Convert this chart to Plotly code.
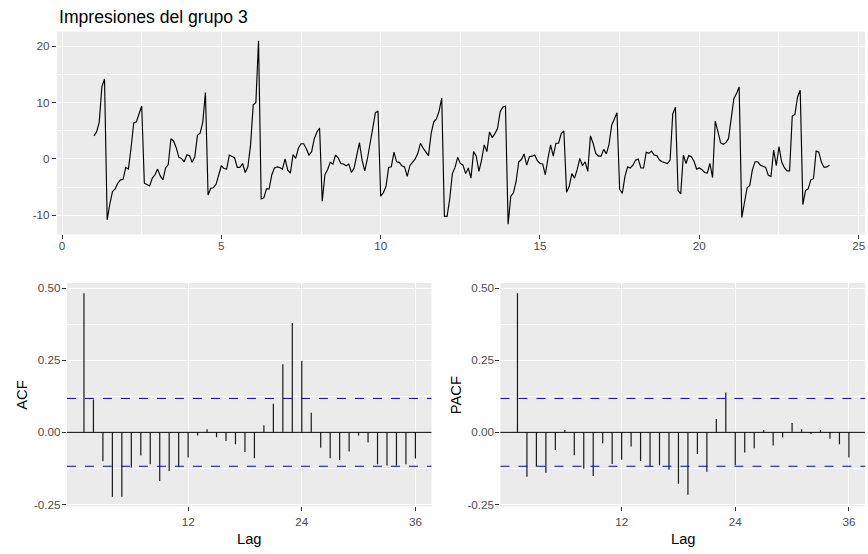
import numpy as np
import plotly.graph_objects as go

# ---------------- data ----------------
series = [
    4.1, 4.8, 6.5, 12.8, 14.2, -10.8, -8.0, -5.8, -5.3, -4.3, -3.7, -3.6, -1.5, -1.8, 2.0, 6.4,
    6.6, 8.0, 9.4, -4.3, -4.5, -4.8, -3.4, -2.8, -1.8, -3.0, -3.7, -1.6, -1.0, 3.6, 3.2, 2.0,
    0.3, 0.1, -0.5, 0.7, 0.6, -0.6, 0.4, 4.2, 4.6, 6.5, 11.8, -6.4, -5.2, -5.1,
    -4.5, -2.8, -1.2, -1.7, -1.8, 0.7, 0.4, 0.2, -1.5, -1.5, -0.8, -2.4, -1.4, 2.5, 9.6, 10.0,
    21.0, -7.1, -6.9, -5.3, -5.3, -2.8, -1.6, -1.4, -1.5, -1.8, 0.0, -2.0, -2.5, 0.8, 0.1, 1.9,
    2.7, 2.7, 1.8, 0.7, 1.3, 3.6, 4.8, 5.5, -7.5, -2.8, -1.9, -0.6, -0.9, 0.7,
    0.2, -0.8, -0.9, -1.2, -0.9, -2.4, -1.6, 0.8, 2.9, -0.2, -2.1, 0.0, 2.5, 5.4, 8.2, 8.5,
    -6.6, -6.0, -4.9, -1.5, -1.4, 1.2, -0.5, -0.6, -1.2, -1.4, -3.1, -1.2, -0.5, 0.0, 1.0, 2.8,
    1.9, 1.3, 0.6, 4.5, 6.6, 7.1, 8.5, 10.8, -10.2, -10.2,
    -7.1, -2.6, -1.5, 0.3, -0.8, -1.1, -2.6, -1.6, -3.4, 1.3, 0.5, -2.2, -0.2, 2.5, 1.3, 4.8,
    3.8, 4.5, 5.4, 8.4, 9.2, 9.4, -11.6, -6.6, -6.0, -4.0, -0.5, -0.1, 0.9, -1.1, 0.4, 0.5,
    0.7, -0.3, -0.8, -0.9, -2.8, 0.1, 2.5, 0.5, 2.8, 2.8, 4.5, 5.0,
    -5.9, -4.9, -2.6, -3.4, -1.9, 0.1, -1.2, -0.5, -2.2, 4.1, 2.8, 1.0, 0.5, 0.5, 1.7, 0.9,
    2.6, 6.0, 7.2, 8.2, -5.4, -6.1, -3.1, -1.4, -1.6, -1.1, -0.2, 0.0, -1.6, -1.6, 1.2, 1.0,
    1.4, 0.7, 0.6, -0.2, -0.5, -0.6, -0.8, -0.2, 8.0, 9.2, -5.6, -6.2,
    0.7, -0.8, 0.6, 0.4, -0.4, -1.8, -1.6, -1.9, -2.4,
    -2.5, -0.8, -3.3, 6.7, 4.9, 2.9, 2.6, 2.9, 3.6, 7.2, 10.7, 11.6, 12.8, -10.4, -7.8, -5.1,
    -4.7, -1.9, -0.5, -0.5, -1.1, -1.3, -1.5, -2.9, -3.1, 1.6, -1.2, 2.2, -0.5, -1.5, -2.1, -2.1,
    7.6, 7.9, 11.0, 12.2, -8.1, -5.6, -5.3, -3.7, -3.5, 1.4, 1.2, -0.6, -1.5, -1.4, -1.1,
]
frequency = 12
start_time = 1

lags = list(range(1, 37))
acf_vals = [
    0.482, 0.114, -0.100, -0.223, -0.223, -0.122, -0.080, -0.111, -0.169, -0.134, -0.118, -0.087,
    -0.011, 0.011, -0.017, -0.030, -0.041, -0.068, -0.090, 0.025, 0.099, 0.236, 0.379, 0.248,
    0.068, -0.053, -0.090, -0.096, -0.066, -0.011, -0.035, -0.111, -0.115, -0.115, -0.111, -0.091,
]
pacf_vals = [
    0.482, -0.154, -0.118, -0.140, -0.061, 0.008, -0.079, -0.126, -0.151, -0.038, -0.110, -0.095,
    -0.049, -0.099, -0.118, -0.114, -0.130, -0.178, -0.216, -0.075, -0.137, 0.046, 0.138, -0.114,
    -0.070, -0.055, 0.008, -0.046, -0.018, 0.032, 0.011, -0.006, 0.008, -0.022, -0.041, -0.087,
]

top_xticks = [0, 5, 10, 15, 20, 25]
top_yticks = [-10, 0, 10, 20]
lag_ticks = [12, 24, 36]
cf_yticks = [-0.25, 0.0, 0.25, 0.50]
cf_yticktext = ["-0.25", "0.00", "0.25", "0.50"]

title_text = "Impresiones del grupo 3"

# ---------------- figure ----------------
W, H = 868, 554
FONT = "Liberation Sans, Arial, sans-serif"
TICKCOL = "#4D4D4D"


def fx(px):
    return px / W


def fy(py):
    return 1 - py / H


n = len(series)
time = start_time + np.arange(n) / frequency
ci = 1.96 / np.sqrt(n)


def segments(vals):
    xs, ys = [], []
    for l, v in zip(lags, vals):
        xs += [l, l, None]
        ys += [0, v, None]
    return xs, ys


fig = go.Figure()
fig.add_trace(go.Scatter(x=time, y=series, mode="lines",
                         line=dict(color="black", width=1.15),
                         xaxis="x", yaxis="y", showlegend=False, hoverinfo="skip"))
ax, ay = segments(acf_vals)
fig.add_trace(go.Scatter(x=ax, y=ay, mode="lines", line=dict(color="#1a1a1a", width=1.2),
                         xaxis="x2", yaxis="y2", showlegend=False, hoverinfo="skip"))
px_, py_ = segments(pacf_vals)
fig.add_trace(go.Scatter(x=px_, y=py_, mode="lines", line=dict(color="#1a1a1a", width=1.2),
                         xaxis="x3", yaxis="y3", showlegend=False, hoverinfo="skip"))

common = dict(ticks="outside", ticklen=4, tickwidth=1, tickcolor="#333333",
              tickfont=dict(family=FONT, size=11.7, color=TICKCOL),
              showgrid=True, gridcolor="white", gridwidth=1.1,
              zeroline=False, showline=False)


def minor(t0, dt):
    return dict(tickmode="linear", tick0=t0, dtick=dt, showgrid=True,
                gridcolor="white", gridwidth=0.55, ticks="")


fig.update_layout(
    width=W, height=H,
    margin=dict(l=0, r=0, t=0, b=0),
    paper_bgcolor="white", plot_bgcolor="#EBEBEB",
    showlegend=False,
    xaxis=dict(domain=[fx(57), fx(866)], range=[-0.16, 25.2], anchor="y",
               tickmode="array", tickvals=top_xticks, ticktext=[str(v) for v in top_xticks],
               minor=minor(0, 2.5), ticklabelstandoff=-3, **common),
    yaxis=dict(domain=[fy(235), fy(30)], range=[-13.4, 22.6], anchor="x",
               tickmode="array", tickvals=top_yticks, ticktext=[str(v) for v in top_yticks],
               minor=minor(-5, 10), **common),
    xaxis2=dict(domain=[fx(67), fx(432)], range=[-0.8, 37.7], anchor="y2",
                tickmode="array", tickvals=lag_ticks, ticktext=[str(v) for v in lag_ticks],
                **common),
    yaxis2=dict(domain=[fy(510), fy(284)], range=[-0.257, 0.518], anchor="x2",
                tickmode="array", tickvals=cf_yticks, ticktext=cf_yticktext,
                minor=minor(0.125, 0.25), ticklabelstandoff=-1, **common),
    xaxis3=dict(domain=[fx(501), fx(866)], range=[-0.8, 37.7], anchor="y3",
                tickmode="array", tickvals=lag_ticks, ticktext=[str(v) for v in lag_ticks],
                **common),
    yaxis3=dict(domain=[fy(510), fy(284)], range=[-0.257, 0.518], anchor="x3",
                tickmode="array", tickvals=cf_yticks, ticktext=cf_yticktext,
                minor=minor(0.125, 0.25), ticklabelstandoff=-1, **common),
)

shapes = []
for xr, yr in (("x2", "y2"), ("x3", "y3")):
    shapes.append(dict(type="line", xref=f"{xr} domain", yref=yr, x0=0, x1=1, y0=0, y1=0,
                       line=dict(color="black", width=1)))
    for s in (ci, -ci):
        shapes.append(dict(type="line", xref=f"{xr} domain", yref=yr, x0=0, x1=1, y0=s, y1=s,
                           line=dict(color="#0000FF", width=1, dash="dash")))
fig.update_layout(shapes=shapes)

annotations = [
    dict(text=title_text, x=fx(57), y=fy(15), xref="paper", yref="paper",
         xanchor="left", yanchor="middle", showarrow=False,
         font=dict(family=FONT, size=17.6, color="black")),
    dict(text="ACF", x=fx(22), y=fy(397), xref="paper", yref="paper", textangle=-90,
         xanchor="center", yanchor="middle", showarrow=False,
         font=dict(family=FONT, size=14.7, color="black")),
    dict(text="PACF", x=fx(456), y=fy(397), xref="paper", yref="paper", textangle=-90,
         xanchor="center", yanchor="middle", showarrow=False,
         font=dict(family=FONT, size=14.7, color="black")),
    dict(text="Lag", x=fx(250), y=fy(543), xref="paper", yref="paper",
         xanchor="center", yanchor="middle", showarrow=False,
         font=dict(family=FONT, size=14.7, color="black")),
    dict(text="Lag", x=fx(684), y=fy(543), xref="paper", yref="paper",
         xanchor="center", yanchor="middle", showarrow=False,
         font=dict(family=FONT, size=14.7, color="black")),
]
fig.update_layout(annotations=annotations)

fig.write_html("out.html")
